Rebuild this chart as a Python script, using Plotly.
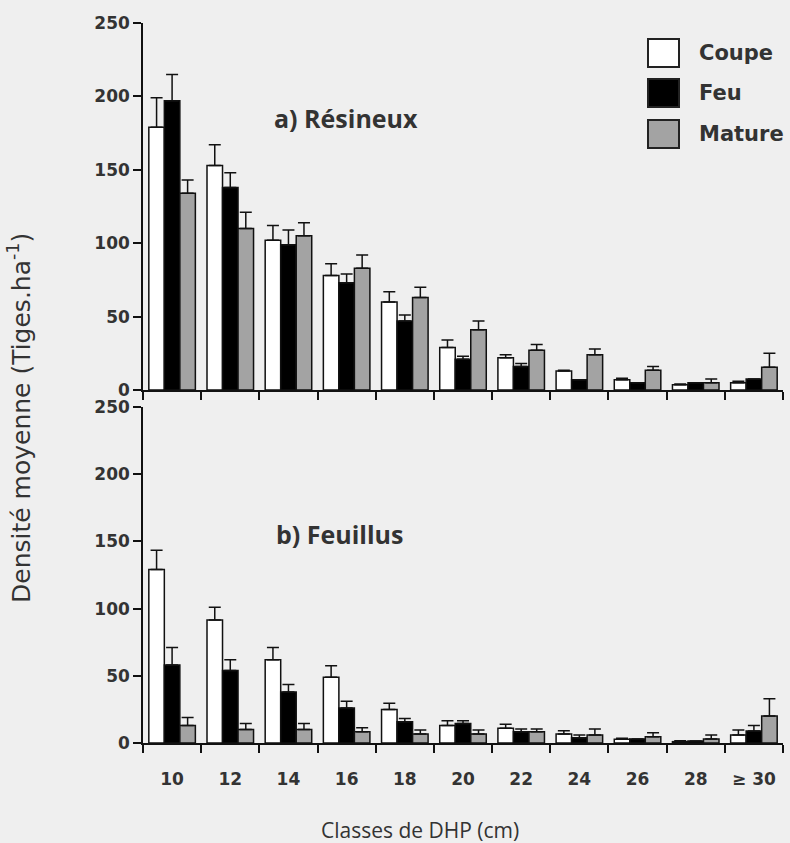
import plotly.graph_objects as go

# ---- data ----
categories = ["10", "12", "14", "16", "18", "20", "22", "24", "26", "28", "≥ 30"]
series_names = ["Coupe", "Feu", "Mature"]

# a) Résineux : means and upper error limits (mean + SE)
res_coupe = [179, 153, 102, 78, 60, 29, 22, 13, 7, 3.5, 5]
res_coupe_top = [199, 167, 112, 86, 67, 34, 24, 13.5, 8, 4, 6]
res_feu = [197, 138, 99, 73, 47, 21, 16, 7, 5, 5, 7.5]
res_feu_top = [215, 148, 109, 79, 51, 23, 18, 7, 5, 5, 7.5]
res_mature = [134, 110, 105, 83, 63, 41, 27, 24, 13.5, 5, 15.5]
res_mature_top = [143, 121, 114, 92, 70, 47, 31, 28, 16, 7.5, 25]

# b) Feuillus
feu_coupe = [129, 91.5, 62, 49, 25, 13, 11, 6.7, 2.7, 1, 6]
feu_coupe_top = [143.5, 101, 71, 57.5, 29.5, 16.6, 14, 9.2, 3.5, 1.7, 9.7]
feu_feu = [58, 54, 38, 26, 15.8, 14.6, 8.4, 4, 3, 1.5, 9]
feu_feu_top = [71, 62, 43.6, 31, 18.3, 16.6, 10.4, 6, 3, 1.5, 13]
feu_mature = [13, 10, 10, 8.4, 6.7, 6.7, 8.4, 6, 4.7, 3, 20]
feu_mature_top = [19, 14.6, 14.6, 11.4, 9.7, 9.7, 10.4, 10.4, 7.7, 6, 33]

y_ticks = [0, 50, 100, 150, 200, 250]

colors = ["#ffffff", "#000000", "#a3a3a3"]
bg = "#efefef"
txt = "#333333"

fig = go.Figure()

panels = [
    ("y", "x", [(res_coupe, res_coupe_top), (res_feu, res_feu_top), (res_mature, res_mature_top)]),
    ("y2", "x2", [(feu_coupe, feu_coupe_top), (feu_feu, feu_feu_top), (feu_mature, feu_mature_top)]),
]
for yax, xax, data in panels:
    for name, col, (vals, tops) in zip(series_names, colors, data):
        fig.add_trace(go.Bar(
            x=categories, y=vals, name=name, showlegend=False,
            xaxis=xax, yaxis=yax,
            marker=dict(color=col, line=dict(color="#111111", width=1.5)),
            error_y=dict(type="data", symmetric=False,
                         array=[t - v for t, v in zip(tops, vals)],
                         arrayminus=[0] * len(vals),
                         color="#111111", thickness=1.5, width=6),
        ))

tickfont = dict(family="DejaVu Sans", size=17, color=txt, weight="bold")

xcommon = dict(type="category", showline=True, linecolor="#111111", linewidth=1.5,
               ticks="outside", tickson="boundaries", ticklen=8, tickwidth=1.5,
               tickcolor="#111111", showgrid=False, zeroline=False,
               range=[-0.5, 10.5], tickfont=tickfont)
ycommon = dict(showline=True, linecolor="#111111", linewidth=1.5, ticks="outside",
               ticklen=8, tickwidth=1.5, tickcolor="#111111", showgrid=False,
               zeroline=False, range=[0, 250], tickvals=y_ticks, tickfont=tickfont)

fig.update_layout(
    xaxis=dict(**xcommon, anchor="y", showticklabels=False),
    yaxis=dict(**ycommon, domain=[0.4903, 1.0], anchor="x"),
    xaxis2=dict(**xcommon, anchor="y2", ticklabelstandoff=20),
    yaxis2=dict(**ycommon, domain=[0.0, 0.4667], anchor="x2"),
    barmode="group", bargap=0.2, bargroupgap=0.0,
    width=790, height=843,
    margin=dict(l=143, r=7, t=23, b=100),
    paper_bgcolor=bg, plot_bgcolor=bg,
    showlegend=False,
)

# panel labels
fig.add_annotation(text="<b>a) Résineux</b>", xref="paper", yref="paper",
                   x=(346 - 143) / 640, y=(743 - 118) / 720, showarrow=False,
                   xanchor="center", yanchor="middle",
                   font=dict(family="Open Sans", size=25, color=txt))
fig.add_annotation(text="<b>b) Feuillus</b>", xref="paper", yref="paper",
                   x=(339 - 143) / 640, y=(743 - 534) / 720, showarrow=False,
                   xanchor="center", yanchor="middle",
                   font=dict(family="Open Sans", size=25, color=txt))

# legend (drawn manually to match the large boxes)
box_y = [(39, 67), (79, 107), (120, 148)]
for name, col, (y0, y1) in zip(series_names, colors, box_y):
    fig.add_shape(type="rect", xref="paper", yref="paper",
                  x0=(648 - 143) / 640, x1=(679 - 143) / 640,
                  y0=(743 - y1) / 720, y1=(743 - y0) / 720,
                  fillcolor=col, line=dict(color="#222222", width=2))
    fig.add_annotation(text=name, xref="paper", yref="paper",
                       x=(697 - 143) / 640, y=(743 - (y0 + y1) / 2) / 720,
                       xanchor="left", yanchor="middle", showarrow=False,
                       font=dict(family="DejaVu Sans", size=21, color=txt, weight="bold"))

# axis titles
fig.add_annotation(text="Classes de DHP (cm)", xref="paper", yref="paper",
                   x=(420 - 143) / 640, y=(743 - 830) / 720, showarrow=False,
                   xanchor="center", yanchor="middle",
                   font=dict(family="Open Sans", size=21, color=txt))
fig.add_annotation(text="Densité moyenne (Tiges.ha<sup>-1</sup>)", xref="paper", yref="paper",
                   x=(19 - 143) / 640, y=(743 - 418) / 720, textangle=-90, showarrow=False,
                   xanchor="center", yanchor="middle",
                   font=dict(family="DejaVu Sans", size=25, color=txt))

fig.write_html("out.html", config={"displayModeBar": False},
               post_script="document.body.style.margin='0';document.body.style.overflow='hidden';")
